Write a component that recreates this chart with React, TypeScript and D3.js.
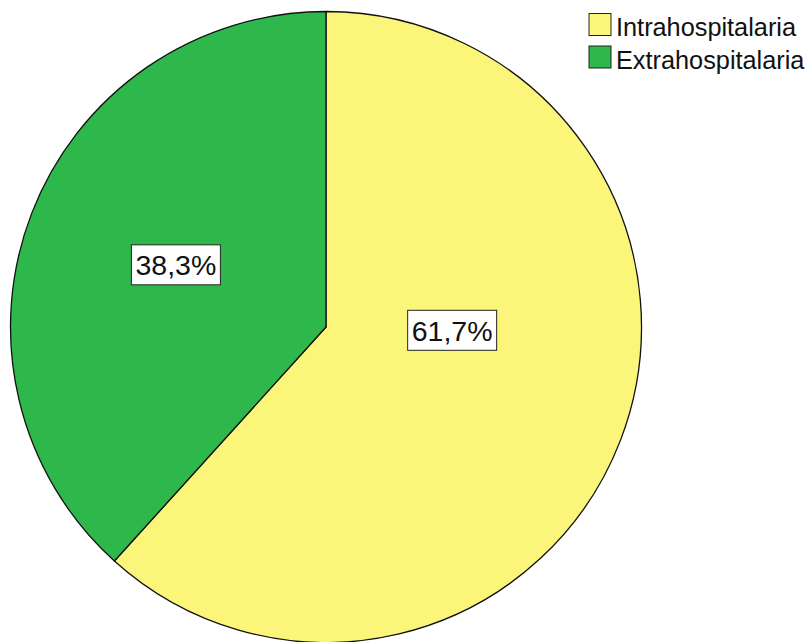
import React from "react";
import * as d3 from "d3";

const categories = ["Intrahospitalaria", "Extrahospitalaria"];
const values = [61.7, 38.3];
const labels = ["61,7%", "38,3%"];
const colors = ["#fbf67a", "#2eb84b"];

const W = 809;
const H = 642;
const cx = 326;
const cy = 327;
const R = 315.5;
// label anchor placement (angle in degrees clockwise from top, distance as fraction of R)
const labelPlacement = [
  { angle: 91.5, dist: 0.4 },
  { angle: 292.5, dist: 0.515 },
];

export default function App() {
  const pie = d3.pie<number>().sort(null).startAngle(0).endAngle(2 * Math.PI);
  const arcs = pie(values);
  const arcGen = d3.arc<d3.PieArcDatum<number>>().innerRadius(0).outerRadius(R);
  const fontSize = 28.5;
  return (
    <svg width={W} height={H} style={{ position: "absolute", left: 0, top: 0 }}>
      <rect width={W} height={H} fill="#ffffff" />
      <g transform={`translate(${cx},${cy})`}>
        {arcs.map((a, i) => (
          <path key={i} d={arcGen(a) || ""} fill={colors[i]} stroke="#111" strokeWidth={1.3} strokeLinejoin="round" />
        ))}
        {arcs.map((a, i) => {
          const p = labelPlacement[i];
          const ang = (p.angle * Math.PI) / 180;
          const x = Math.sin(ang) * p.dist * R;
          const y = -Math.cos(ang) * p.dist * R;
          const tw = 89;
          const th = 40;
          return (
            <g key={"l" + i} transform={`translate(${x},${y})`}>
              <rect x={-tw / 2} y={-th / 2} width={tw} height={th} fill="#fff" stroke="#222" strokeWidth={1} />
              <text
                x={0}
                y={0}
                dy="0.36em"
                textAnchor="middle"
                fontFamily="'Liberation Sans', Arial, sans-serif"
                fontSize={fontSize}
                fill="#111"
              >
                {labels[i]}
              </text>
            </g>
          );
        })}
      </g>
      <g>
        {categories.map((c, i) => (
          <g key={c} transform={`translate(589,${13.5 + i * 32.5})`}>
            <rect x={0} y={0} width={22} height={22} fill={colors[i]} stroke="#222" strokeWidth={1} />
            <text
              x={27}
              y={22.5}
              fontFamily="'Liberation Sans', Arial, sans-serif"
              fontSize={25.3}
              fill="#111"
            >
              {c}
            </text>
          </g>
        ))}
      </g>
    </svg>
  );
}
